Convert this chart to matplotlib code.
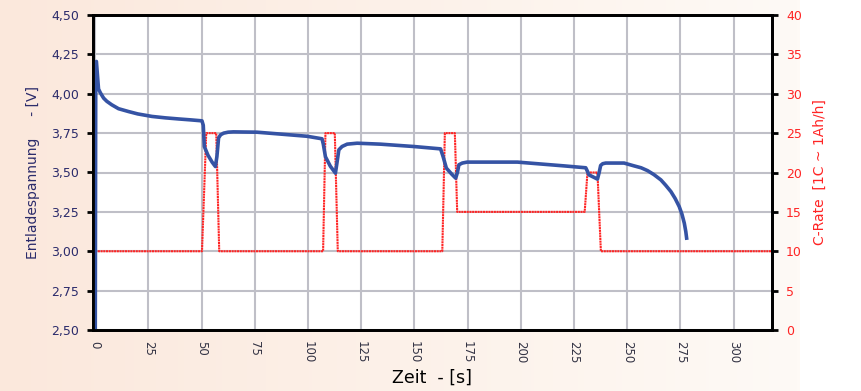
import numpy as np
import matplotlib
matplotlib.use("Agg")
from matplotlib import pyplot as plt
from matplotlib.ticker import FuncFormatter, MultipleLocator

# discharge voltage (left axis)
zeit_v = [0, 0.3, 0.6, 1.6, 2.5, 4, 5.5, 7.8, 11, 15.7, 20, 26.7, 33, 39.2, 45, 50.2,
          50.8, 51.3, 53, 55, 56.5, 57.2, 58, 59, 60.4, 62.5, 65, 70, 76, 87, 99.6, 106.6,
          107.2, 108.2, 110.5, 112.9, 113.6, 114.5, 116, 118.4, 123.1, 134, 149.7, 162.3,
          163.5, 165, 167.5, 169.4, 170.2, 170.9, 172.5, 174.8, 198.4, 220.3, 230.5,
          231.2, 232, 236, 236.8, 237.5, 238.5, 239.9, 248.5, 253.2, 256.5, 259.5, 262.5,
          265.8, 268, 270.5, 272.5, 274.4, 275.7, 276.8, 277.5, 278]
spannung = [2.0, 4.20, 4.205, 4.03, 4.005, 3.972, 3.952, 3.93, 3.905, 3.887, 3.872, 3.856,
            3.847, 3.84, 3.834, 3.828,
            3.80, 3.665, 3.61, 3.565, 3.538, 3.60, 3.72, 3.74, 3.75, 3.756, 3.758, 3.757, 3.756,
            3.744, 3.73, 3.714,
            3.68, 3.60, 3.54, 3.496, 3.56, 3.644, 3.665, 3.68, 3.686, 3.68, 3.665, 3.65,
            3.60, 3.528, 3.49, 3.464, 3.50, 3.549, 3.560, 3.566, 3.566, 3.542, 3.53,
            3.51, 3.485, 3.458, 3.50, 3.545, 3.556, 3.56, 3.56, 3.542, 3.53, 3.512, 3.487,
            3.453, 3.42, 3.379, 3.335, 3.284, 3.235, 3.178, 3.125, 3.072]

# C-rate (right axis)
zeit_c = [0, 50.2, 52.2, 56.9, 58.3, 107.1, 108.2, 112.6, 114.0, 163.1, 164.3, 169.0,
          170.1, 230.0, 231.3, 236.0, 237.6, 318]
crate = [10, 10, 25, 25, 10, 10, 25, 25, 10, 10, 25, 25, 15, 15, 20, 20, 10, 10]

navy = "#2b2b6b"
red = "#ff2424"

fig = plt.figure(figsize=(8.62, 3.91), dpi=100)

# peach background fading to the right
bg = fig.add_axes([0, 0, 1, 1], zorder=-10)
grad = np.linspace(0, 1, 256)
c0 = np.array([251, 232, 220]) / 255.0
c1 = np.array([254, 250, 246]) / 255.0
img = c0[None, :] * (1 - grad[:, None]) + c1[None, :] * grad[:, None]
bg.imshow(img[None, :, :], aspect="auto", extent=[0, 800, 0, 391])
bg.set_xlim(0, 862)
bg.set_ylim(0, 391)
bg.axis("off")

pos = [93 / 862, 1 - 330 / 391, (772 - 93) / 862, (330 - 15) / 391]
ax2 = fig.add_axes(pos)
ax2.set_facecolor("white")
ax = ax2.twinx()
ax2.yaxis.tick_right()
ax2.yaxis.set_label_position("right")
ax.yaxis.tick_left()
ax.yaxis.set_label_position("left")
ax.set_zorder(ax2.get_zorder() + 1)
ax.patch.set_visible(False)

ax2.plot(zeit_c, crate, color=red, lw=1.5, linestyle=(0, (1, 0.3)))
ax.plot(zeit_v, spannung, color="#3553a4", lw=2.6, solid_capstyle="butt",
        solid_joinstyle="round")

ax2.set_xlim(-1, 318)
ax2.set_ylim(0, 40)
ax.set_ylim(2.5, 4.5)
ax2.xaxis.set_major_locator(MultipleLocator(25))
ax2.yaxis.set_major_locator(MultipleLocator(5))
ax.yaxis.set_major_locator(MultipleLocator(0.25))
ax.yaxis.set_major_formatter(FuncFormatter(lambda v, p: ("%.2f" % v).replace(".", ",")))

ax2.grid(True, color="#bfbfc7", lw=1.5, linestyle="-")
ax2.set_axisbelow(True)

for a in (ax, ax2):
    for s in a.spines.values():
        s.set_linewidth(2)
        s.set_color("black")

ax2.tick_params(axis="x", length=0, labelsize=8.5, labelrotation=-90, pad=8, labelcolor="#333344")
ax2.tick_params(axis="y", direction="out", length=4, width=2, color="black",
                labelsize=9, labelcolor=red, pad=6)
ax.tick_params(axis="y", direction="out", length=4, width=2, color="black",
               labelsize=9, labelcolor=navy, pad=6)

ax.set_ylabel("Entladespannung     - [V]", color=navy, fontsize=10, labelpad=8)
ax2.set_ylabel("C-Rate  [1C ~ 1Ah/h]", color=red, fontsize=10, labelpad=8)
ax2.set_xlabel("Zeit  - [s]", color="black", fontsize=12.5, labelpad=4)

fig.savefig("out.png", dpi=100)
